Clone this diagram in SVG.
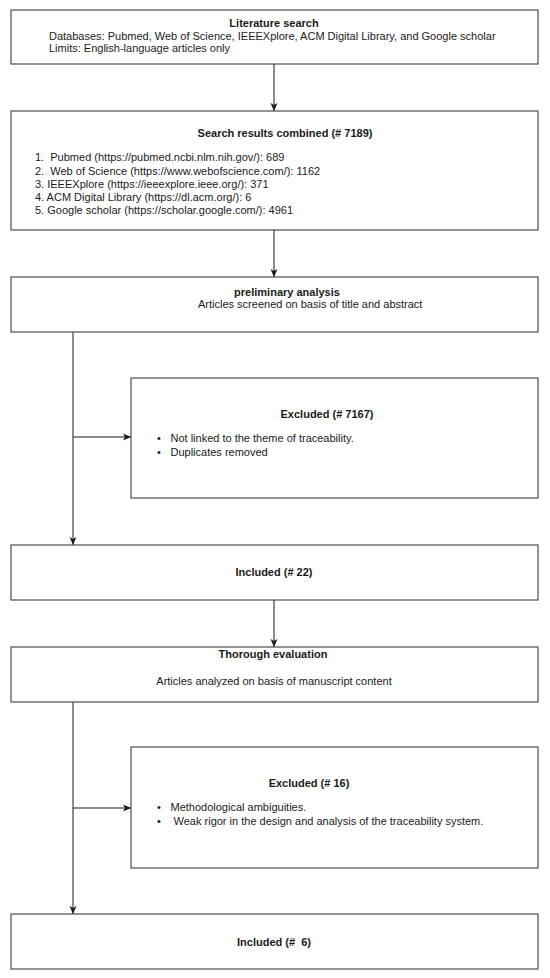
<svg xmlns="http://www.w3.org/2000/svg" width="550" height="978" viewBox="0 0 550 978">
<defs>
<style>
.box{fill:#ffffff;stroke:#4d4d4d;stroke-width:1.2}
.t{font-family:"Liberation Sans",Arial,sans-serif;font-size:11px;fill:#1a1a1a;white-space:pre}
.b{font-weight:bold;text-anchor:middle}
.c{text-anchor:middle}
.ln{fill:none;stroke:#1a1a1a;stroke-width:1}
</style>
<marker id="arr" markerUnits="userSpaceOnUse" markerWidth="10" markerHeight="10" viewBox="0 0 10 10" refX="9" refY="5" orient="auto">
<path d="M1,1.5 L9,5 L1,8.5 L3,5 Z" fill="#1a1a1a"/>
</marker>
</defs>
<rect width="550" height="978" fill="#ffffff"/>
<g id="connectors">
<line class="ln" x1="274" y1="64" x2="274" y2="111" marker-end="url(#arr)"/>
<line class="ln" x1="274" y1="230" x2="274" y2="277" marker-end="url(#arr)"/>
<line class="ln" x1="73" y1="332" x2="73" y2="545" marker-end="url(#arr)"/>
<line class="ln" x1="73" y1="437" x2="131" y2="437" marker-end="url(#arr)"/>
<line class="ln" x1="274" y1="600" x2="274" y2="647" marker-end="url(#arr)"/>
<line class="ln" x1="73" y1="702" x2="73" y2="914" marker-end="url(#arr)"/>
<line class="ln" x1="73" y1="808" x2="131" y2="808" marker-end="url(#arr)"/>
</g>
<g id="literature-search">
<rect class="box" x="11" y="10" width="527" height="54"/>
<text class="t b" x="274" y="27">Literature search</text>
<text class="t" x="49" y="39.5">Databases: Pubmed, Web of Science, IEEEXplore, ACM Digital Library, and Google scholar</text>
<text class="t" x="49" y="51.5">Limits: English-language articles only</text>
</g>
<g id="search-results">
<rect class="box" x="11" y="111" width="527" height="119"/>
<text class="t b" x="285" y="137">Search results combined (# 7189)</text>
<text class="t" x="35" y="161">1.  Pubmed (https://pubmed.ncbi.nlm.nih.gov/): 689</text>
<text class="t" x="35" y="174.5">2.  Web of Science (https://www.webofscience.com/): 1162</text>
<text class="t" x="35" y="188">3. IEEEXplore (https://ieeexplore.ieee.org/): 371</text>
<text class="t" x="35" y="201">4. ACM Digital Library (https://dl.acm.org/): 6</text>
<text class="t" x="35" y="214">5. Google scholar (https://scholar.google.com/): 4961</text>
</g>
<g id="preliminary-analysis">
<rect class="box" x="11" y="277" width="527" height="55"/>
<text class="t b" x="287" y="295.5">preliminary analysis</text>
<text class="t" x="198" y="308">Articles screened on basis of title and abstract</text>
</g>
<g id="excluded-7167">
<rect class="box" x="131" y="378" width="407" height="120"/>
<text class="t b" x="327" y="418">Excluded (# 7167)</text>
<text class="t" x="157" y="441.5">•</text>
<text class="t" x="170.5" y="441.5">Not linked to the theme of traceability.</text>
<text class="t" x="157" y="455.5">•</text>
<text class="t" x="170.5" y="455.5">Duplicates removed</text>
</g>
<g id="included-22">
<rect class="box" x="11" y="545" width="527" height="55"/>
<text class="t b" x="274" y="576">Included (# 22)</text>
</g>
<g id="thorough-evaluation">
<rect class="box" x="11" y="647" width="527" height="55"/>
<text class="t b" x="273" y="658">Thorough evaluation</text>
<text class="t c" x="274" y="684.5">Articles analyzed on basis of manuscript content</text>
</g>
<g id="excluded-16">
<rect class="box" x="131" y="747" width="407" height="121"/>
<text class="t b" x="309" y="787">Excluded (# 16)</text>
<text class="t" x="157" y="811.3">•</text>
<text class="t" x="170.5" y="811.3">Methodological ambiguities.</text>
<text class="t" x="157" y="824.7">•</text>
<text class="t" x="170.5" y="824.7"> Weak rigor in the design and analysis of the traceability system.</text>
</g>
<g id="included-6">
<rect class="box" x="11" y="914" width="527" height="55"/>
<text class="t b" x="274" y="945.7">Included (#  6)</text>
</g>
</svg>
